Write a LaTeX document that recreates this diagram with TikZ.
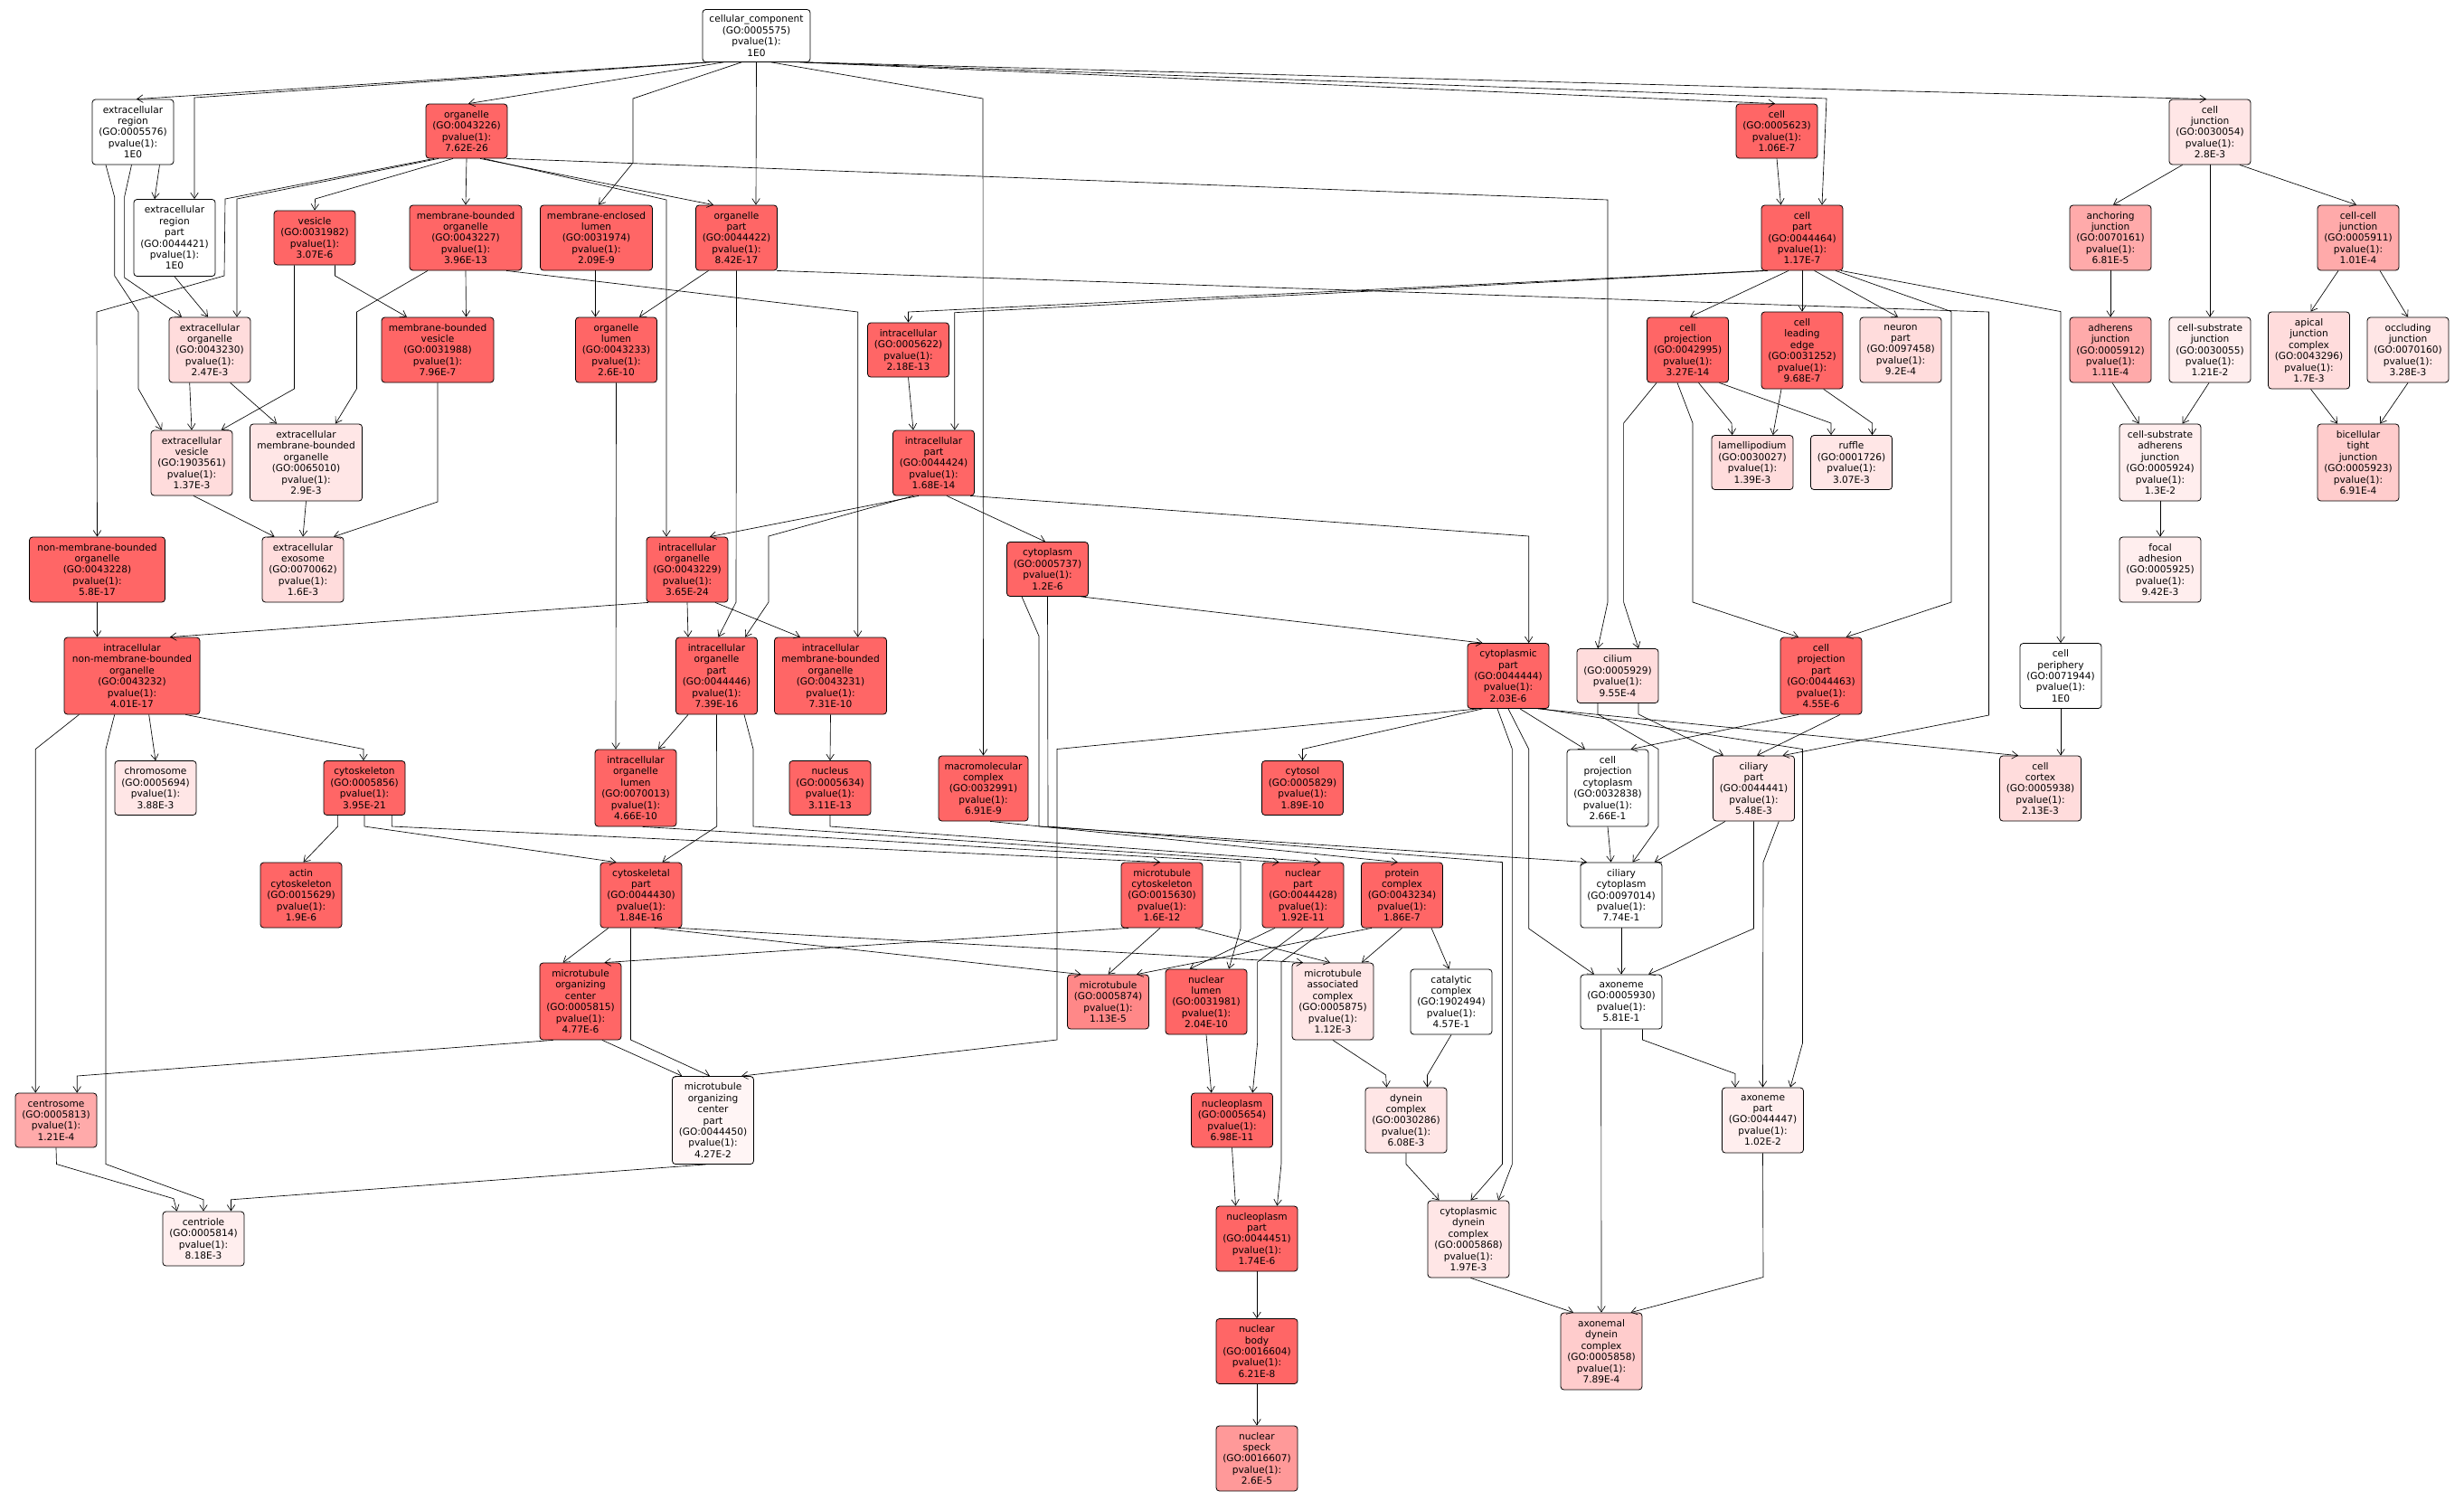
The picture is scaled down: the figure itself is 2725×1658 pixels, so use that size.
\documentclass[tikz,border=0pt]{standalone}
\usepackage{fontspec}
\setmainfont{DejaVu Sans}
\usepackage{xcolor}
\usepackage{tikz}
\usetikzlibrary{arrows.meta}

\definecolor{pvA}{RGB}{255,102,102}
\definecolor{pvB}{RGB}{255,136,136}
\definecolor{pvC}{RGB}{255,153,153}
\definecolor{pvD}{RGB}{255,170,170}
\definecolor{pvE}{RGB}{255,204,204}
\definecolor{pvF}{RGB}{255,220,220}
\definecolor{pvG}{RGB}{255,230,230}
\definecolor{pvH}{RGB}{255,238,238}
\definecolor{pvI}{RGB}{255,245,245}

\begin{document}
\begin{tikzpicture}[
    x=1pt, y=-1pt,
    term/.style={rectangle, draw, line width=0.8pt, rounded corners=3.5pt, align=center, inner sep=1pt,
                 minimum width=90pt, minimum height=72pt, fill=white, font=\fontsize{10.6}{12.4}\selectfont},
    l4/.style={minimum height=60pt},
    l6/.style={minimum height=85pt},
    l7/.style={minimum height=97pt},
    wide/.style={minimum width=124pt},
    wider/.style={minimum width=150pt},
    sA/.style={fill=pvA}, sB/.style={fill=pvB}, sC/.style={fill=pvC},
    sD/.style={fill=pvD}, sE/.style={fill=pvE}, sF/.style={fill=pvF},
    sG/.style={fill=pvG}, sH/.style={fill=pvH}, sI/.style={fill=pvI},
    arrow/.style={-{Straight Barb[length=6.5pt,width=8.5pt]}, line width=0.65pt}
]
\path[use as bounding box, fill=white] (0,0) rectangle (2725,1658);

% Root and first level
\node[term, l4, minimum width=119pt, minimum height=58pt] (cc) at (836.5,39.5) {cellular\_component\\(GO:0005575)\\pvalue(1):\\1E0};
\node[term] (er) at (147,146) {extracellular\\region\\(GO:0005576)\\pvalue(1):\\1E0};
\node[term, l4, sA] (org) at (516,145) {organelle\\(GO:0043226)\\pvalue(1):\\7.62E-26};
\node[term, l4, sA] (cell) at (1965,145) {cell\\(GO:0005623)\\pvalue(1):\\1.06E-7};
\node[term, sG] (cj) at (2444,146) {cell\\junction\\(GO:0030054)\\pvalue(1):\\2.8E-3};

% Second level
\node[term, l6] (erp) at (193,263) {extracellular\\region\\part\\(GO:0044421)\\pvalue(1):\\1E0};
\node[term, l4, sA] (ves) at (348,263) {vesicle\\(GO:0031982)\\pvalue(1):\\3.07E-6};
\node[term, wide, sA] (mbo) at (515,263) {membrane-bounded\\organelle\\(GO:0043227)\\pvalue(1):\\3.96E-13};
\node[term, wide, sA] (mel) at (659.5,263) {membrane-enclosed\\lumen\\(GO:0031974)\\pvalue(1):\\2.09E-9};
\node[term, sA] (orgp) at (814.5,263) {organelle\\part\\(GO:0044422)\\pvalue(1):\\8.42E-17};
\node[term, sA] (cellp) at (1993,263) {cell\\part\\(GO:0044464)\\pvalue(1):\\1.17E-7};
\node[term, sD] (aj) at (2334,263) {anchoring\\junction\\(GO:0070161)\\pvalue(1):\\6.81E-5};
\node[term, sD] (ccj) at (2608,263) {cell-cell\\junction\\(GO:0005911)\\pvalue(1):\\1.01E-4};

% Third level
\node[term, sF] (eo) at (232,387) {extracellular\\organelle\\(GO:0043230)\\pvalue(1):\\2.47E-3};
\node[term, wide, sA] (mbv) at (484,387) {membrane-bounded\\vesicle\\(GO:0031988)\\pvalue(1):\\7.96E-7};
\node[term, sA] (ol) at (681.5,387) {organelle\\lumen\\(GO:0043233)\\pvalue(1):\\2.6E-10};
\node[term, l4, sA] (ic) at (1004.5,387) {intracellular\\(GO:0005622)\\pvalue(1):\\2.18E-13};
\node[term, sA] (cproj) at (1866.5,387) {cell\\projection\\(GO:0042995)\\pvalue(1):\\3.27E-14};
\node[term, l6, sA] (cle) at (1993,387.5) {cell\\leading\\edge\\(GO:0031252)\\pvalue(1):\\9.68E-7};
\node[term, sF] (np) at (2102,387) {neuron\\part\\(GO:0097458)\\pvalue(1):\\9.2E-4};
\node[term, sD] (adj) at (2334,387) {adherens\\junction\\(GO:0005912)\\pvalue(1):\\1.11E-4};
\node[term, sH] (csj) at (2444,387) {cell-substrate\\junction\\(GO:0030055)\\pvalue(1):\\1.21E-2};
\node[term, l6, sF] (ajc) at (2553.5,387.5) {apical\\junction\\complex\\(GO:0043296)\\pvalue(1):\\1.7E-3};
\node[term, sG] (oj) at (2663,387) {occluding\\junction\\(GO:0070160)\\pvalue(1):\\3.28E-3};

% Fourth level
\node[term, sF] (ev) at (212,512) {extracellular\\vesicle\\(GO:1903561)\\pvalue(1):\\1.37E-3};
\node[term, wide, l6, sG] (embo) at (338.5,511.5) {extracellular\\membrane-bounded\\organelle\\(GO:0065010)\\pvalue(1):\\2.9E-3};
\node[term, sA] (icp) at (1032.5,512) {intracellular\\part\\(GO:0044424)\\pvalue(1):\\1.68E-14};
\node[term, l4, sF] (lam) at (1938,511.5) {lamellipodium\\(GO:0030027)\\pvalue(1):\\1.39E-3};
\node[term, l4, sG] (ruf) at (2047.5,511.5) {ruffle\\(GO:0001726)\\pvalue(1):\\3.07E-3};
\node[term, l6, sH] (csaj) at (2389,511.5) {cell-substrate\\adherens\\junction\\(GO:0005924)\\pvalue(1):\\1.3E-2};
\node[term, l6, sE] (btj) at (2608,511.5) {bicellular\\tight\\junction\\(GO:0005923)\\pvalue(1):\\6.91E-4};

% Fifth level
\node[term, wider, sA] (nmbo) at (107.5,630) {non-membrane-bounded\\organelle\\(GO:0043228)\\pvalue(1):\\5.8E-17};
\node[term, sF] (exo) at (335,630) {extracellular\\exosome\\(GO:0070062)\\pvalue(1):\\1.6E-3};
\node[term, sA] (io) at (760,630) {intracellular\\organelle\\(GO:0043229)\\pvalue(1):\\3.65E-24};
\node[term, l4, sA] (cyto) at (1158.5,629.5) {cytoplasm\\(GO:0005737)\\pvalue(1):\\1.2E-6};
\node[term, sH] (fa) at (2389,630) {focal\\adhesion\\(GO:0005925)\\pvalue(1):\\9.42E-3};

% Sixth level
\node[term, wider, l6, sA] (inmbo) at (146,747.5) {intracellular\\non-membrane-bounded\\organelle\\(GO:0043232)\\pvalue(1):\\4.01E-17};
\node[term, l6, sA] (iop) at (792.5,747.5) {intracellular\\organelle\\part\\(GO:0044446)\\pvalue(1):\\7.39E-16};
\node[term, wide, l6, sA] (imbo) at (918.5,747.5) {intracellular\\membrane-bounded\\organelle\\(GO:0043231)\\pvalue(1):\\7.31E-10};
\node[term, sA] (cytp) at (1668,747.5) {cytoplasmic\\part\\(GO:0044444)\\pvalue(1):\\2.03E-6};
\node[term, l4, sF] (cil) at (1789,747.5) {cilium\\(GO:0005929)\\pvalue(1):\\9.55E-4};
\node[term, l6, sA] (cpp) at (2014,747.5) {cell\\projection\\part\\(GO:0044463)\\pvalue(1):\\4.55E-6};
\node[term] (cper) at (2279,747.5) {cell\\periphery\\(GO:0071944)\\pvalue(1):\\1E0};

% Seventh level
\node[term, l4, sG] (chr) at (172,871.5) {chromosome\\(GO:0005694)\\pvalue(1):\\3.88E-3};
\node[term, l4, sA] (csk) at (403,871.5) {cytoskeleton\\(GO:0005856)\\pvalue(1):\\3.95E-21};
\node[term, l6, sA] (iol) at (703,871.5) {intracellular\\organelle\\lumen\\(GO:0070013)\\pvalue(1):\\4.66E-10};
\node[term, l4, sA] (nuc) at (918,871.5) {nucleus\\(GO:0005634)\\pvalue(1):\\3.11E-13};
\node[term, sA, minimum width=99pt] (mmc) at (1087.5,872) {macromolecular\\complex\\(GO:0032991)\\pvalue(1):\\6.91E-9};
\node[term, l4, sA] (cytosol) at (1440.5,871.5) {cytosol\\(GO:0005829)\\pvalue(1):\\1.89E-10};
\node[term, l6] (cpc) at (1778,871.5) {cell\\projection\\cytoplasm\\(GO:0032838)\\pvalue(1):\\2.66E-1};
\node[term, sG] (cilp) at (1939.5,872) {ciliary\\part\\(GO:0044441)\\pvalue(1):\\5.48E-3};
\node[term, sF] (cort) at (2256.5,872) {cell\\cortex\\(GO:0005938)\\pvalue(1):\\2.13E-3};

% Eighth level
\node[term, sA] (acsk) at (333,990) {actin\\cytoskeleton\\(GO:0015629)\\pvalue(1):\\1.9E-6};
\node[term, sA] (cskp) at (709,990) {cytoskeletal\\part\\(GO:0044430)\\pvalue(1):\\1.84E-16};
\node[term, sA] (mtcsk) at (1285,990) {microtubule\\cytoskeleton\\(GO:0015630)\\pvalue(1):\\1.6E-12};
\node[term, sA] (nucp) at (1441,990) {nuclear\\part\\(GO:0044428)\\pvalue(1):\\1.92E-11};
\node[term, sA] (pc) at (1550.5,990) {protein\\complex\\(GO:0043234)\\pvalue(1):\\1.86E-7};
\node[term] (cilc) at (1793,990) {ciliary\\cytoplasm\\(GO:0097014)\\pvalue(1):\\7.74E-1};

% Ninth level
\node[term, l6, sA] (mtoc) at (642,1107.5) {microtubule\\organizing\\center\\(GO:0005815)\\pvalue(1):\\4.77E-6};
\node[term, l4, sB] (mt) at (1225.5,1108) {microtubule\\(GO:0005874)\\pvalue(1):\\1.13E-5};
\node[term, sA] (nl) at (1334,1108) {nuclear\\lumen\\(GO:0031981)\\pvalue(1):\\2.04E-10};
\node[term, l6, sG] (mac) at (1474,1107.5) {microtubule\\associated\\complex\\(GO:0005875)\\pvalue(1):\\1.12E-3};
\node[term] (cat) at (1605,1108) {catalytic\\complex\\(GO:1902494)\\pvalue(1):\\4.57E-1};
\node[term, l4] (axo) at (1793,1108) {axoneme\\(GO:0005930)\\pvalue(1):\\5.81E-1};

% Lower levels
\node[term, l4, sD] (centro) at (62,1239) {centrosome\\(GO:0005813)\\pvalue(1):\\1.21E-4};
\node[term, l7, sI] (mtocp) at (788.5,1239) {microtubule\\organizing\\center\\part\\(GO:0044450)\\pvalue(1):\\4.27E-2};
\node[term, l4, sA] (nplasm) at (1362.5,1239) {nucleoplasm\\(GO:0005654)\\pvalue(1):\\6.98E-11};
\node[term, sG] (dyn) at (1555,1239) {dynein\\complex\\(GO:0030286)\\pvalue(1):\\6.08E-3};
\node[term, sH] (axop) at (1949.5,1239) {axoneme\\part\\(GO:0044447)\\pvalue(1):\\1.02E-2};
\node[term, l4, sH] (centri) at (225,1370) {centriole\\(GO:0005814)\\pvalue(1):\\8.18E-3};
\node[term, sA] (nplp) at (1390,1370) {nucleoplasm\\part\\(GO:0044451)\\pvalue(1):\\1.74E-6};
\node[term, l6, sG] (cdc) at (1624,1370.5) {cytoplasmic\\dynein\\complex\\(GO:0005868)\\pvalue(1):\\1.97E-3};
\node[term, sA] (nb) at (1390,1494.5) {nuclear\\body\\(GO:0016604)\\pvalue(1):\\6.21E-8};
\node[term, l6, sE] (adc) at (1771,1494.5) {axonemal\\dynein\\complex\\(GO:0005858)\\pvalue(1):\\7.89E-4};
\node[term, sC] (ns) at (1390,1613) {nuclear\\speck\\(GO:0016607)\\pvalue(1):\\2.6E-5};

% Edges from cellular_component
\draw[arrow] ([xshift=-56.5pt]cc.south) -- ([xshift=4pt]er.north);
\draw[arrow] ([xshift=-51.5pt]cc.south) -- (215,108) -- ([xshift=22pt]erp.north);
\draw[arrow] ([xshift=-36.5pt]cc.south) -- ([xshift=2pt]org.north);
\draw[arrow] ([xshift=-16.5pt]cc.south) -- (700,109) -- (700,180) -- ([xshift=2.5pt]mel.north);
\draw[arrow] (cc.south) -- ([xshift=21.5pt]orgp.north);
\draw[arrow] ([xshift=16.5pt]cc.south) -- (1087,109) -- (mmc.north);
\draw[arrow] ([xshift=48pt]cc.south) -- ([xshift=-2pt]cell.north);
\draw[arrow] ([xshift=52pt]cc.south) -- (2020,109) -- ([xshift=22pt]cellp.north);
\draw[arrow] ([xshift=56pt]cc.south) -- ([xshift=-4pt]cj.north);

% Extracellular region
\draw[arrow] ([xshift=29.5pt]er.south) -- ([xshift=-22pt]erp.north);
\draw[arrow] ([xshift=-1.5pt]er.south) -- (137.6,218) -- (137.6,307) -- ([xshift=-31pt]eo.north);
\draw[arrow] ([xshift=-30pt]er.south) -- (126.7,218) -- (126.7,305) -- (153,345) -- (153,430) -- ([xshift=-33pt]ev.north);
\draw[arrow] (erp.south) -- ([xshift=-2pt]eo.north);

% Organelle
\draw[arrow] ([xshift=-31pt]org.south) -- (262,220) -- ([xshift=30pt]eo.north);
\draw[arrow] ([xshift=-36pt]org.south) -- (249,220) -- (248,305) -- (107,345) -- (nmbo.north);
\draw[arrow] ([xshift=-15pt]org.south) -- (348.6,220) -- (ves.north);
\draw[arrow] (org.south) -- (mbo.north);
\draw[arrow] ([xshift=15pt]org.south) -- ([xshift=-25.5pt]orgp.north);
\draw[arrow] ([xshift=19pt]org.south) -- (737,221) -- ([xshift=-23pt]io.north);
\draw[arrow] ([xshift=44pt]org.south) -- (1778,221) -- (1778,666) -- ([xshift=-22pt]cil.north);

% Vesicle, membrane-bounded organelle, lumens
\draw[arrow] ([xshift=22.5pt]ves.south) -- (370.5,305) -- ([xshift=-34pt]mbv.north);
\draw[arrow] ([xshift=-22.5pt]ves.south) -- (325.5,430) -- ([xshift=32.7pt]ev.north);
\draw[arrow] ([xshift=-42pt]mbo.south) -- (394.5,345) -- (394.5,430) -- ([xshift=32.5pt]embo.north);
\draw[arrow] (mbo.south) -- ([xshift=31.5pt]mbv.north);
\draw[arrow] ([xshift=45pt]mbo.south) -- (948.7,345) -- ([xshift=30.2pt]imbo.north);
\draw[arrow] ([xshift=-1pt]mel.south) -- ([xshift=-23pt]ol.north);
\draw[arrow] ([xshift=-31pt]orgp.south) -- ([xshift=25.5pt]ol.north);
\draw[arrow] (orgp.south) -- (814,666) -- ([xshift=2pt]iop.north);
\draw[arrow] ([xshift=44.5pt]orgp.south) -- (2199.5,345) -- (2199.5,791) -- ([xshift=32pt]cilp.north);
\draw[arrow] ([xshift=-22.3pt]eo.south) -- (ev.north);
\draw[arrow] ([xshift=22.7pt]eo.south) -- ([xshift=-32.5pt]embo.north);
\draw[arrow] (mbv.south) -- (484,555) -- ([xshift=34pt]exo.north);
\draw[arrow] ([xshift=2pt]ev.south) -- ([xshift=-31.4pt]exo.north);
\draw[arrow] (embo.south) -- (exo.north);
\draw[arrow] (ol.south) -- ([xshift=-22pt]iol.north);

% Cell part and intracellular
\draw[arrow] (ic.south) -- ([xshift=-22.5pt]icp.north);
\draw[arrow] ([xshift=-43pt]cellp.south) -- (1004.5,345) -- (ic.north);
\draw[arrow] ([xshift=-38pt]cellp.south) -- (1055.8,345.7) -- ([xshift=23.3pt]icp.north);
\draw[arrow] ([xshift=-15pt]cellp.south) -- ([xshift=2.5pt]cproj.north);
\draw[arrow] (cellp.south) -- (cle.north);
\draw[arrow] ([xshift=13.6pt]cellp.south) -- ([xshift=-3pt]np.north);
\draw[arrow] ([xshift=37pt]cellp.south) -- (2158,344.6) -- (2158,666) -- ([xshift=27.6pt]cpp.north);
\draw[arrow] ([xshift=43pt]cellp.south) -- (2279,344.6) -- (cper.north);
\draw[arrow] (cell.south) -- ([xshift=-23.5pt]cellp.north);

% Cell junctions
\draw[arrow] ([xshift=-30.4pt]cj.south) -- ([xshift=3pt]aj.north);
\draw[arrow] (cj.south) -- (csj.north);
\draw[arrow] ([xshift=33pt]cj.south) -- ([xshift=-2pt]ccj.north);
\draw[arrow] (aj.south) -- (adj.north);
\draw[arrow] ([xshift=-22pt]ccj.south) -- ([xshift=2pt]ajc.north);
\draw[arrow] ([xshift=24pt]ccj.south) -- (oj.north);
\draw[arrow] ([xshift=2pt]adj.south) -- ([xshift=-23.5pt]csaj.north);
\draw[arrow] ([xshift=-1pt]csj.south) -- ([xshift=24.6pt]csaj.north);
\draw[arrow] ([xshift=2pt]ajc.south) -- ([xshift=-23pt]btj.north);
\draw[arrow] (oj.south) -- ([xshift=24pt]btj.north);
\draw[arrow] (csaj.south) -- (fa.north);

% Cell projection and leading edge
\draw[arrow] ([xshift=-34.5pt]cproj.south) -- (1795.6,468) -- (1795.6,666) -- ([xshift=23pt]cil.north);
\draw[arrow] ([xshift=-11.5pt]cproj.south) -- (1872,468) -- (1872,666) -- ([xshift=-25pt]cpp.north);
\draw[arrow] ([xshift=12pt]cproj.south) -- (1915,468) -- ([xshift=-22.3pt]lam.north);
\draw[arrow] ([xshift=35pt]cproj.south) -- (2025,468) -- ([xshift=-22.5pt]ruf.north);
\draw[arrow] ([xshift=-23pt]cle.south) -- ([xshift=22.7pt]lam.north);
\draw[arrow] ([xshift=23.7pt]cle.south) -- (2070.6,468) -- ([xshift=23pt]ruf.north);

% Intracellular part
\draw[arrow] ([xshift=-16.5pt]icp.south) -- ([xshift=25pt]io.north);
\draw[arrow] ([xshift=-22.5pt]icp.south) -- (850,593) -- (850,666) -- ([xshift=31.5pt]iop.north);
\draw[arrow] ([xshift=14.5pt]icp.south) -- ([xshift=-2.5pt]cyto.north);
\draw[arrow] ([xshift=40.5pt]icp.south) -- (1690.7,593) -- ([xshift=22.7pt]cytp.north);

% Organelle subtypes
\draw[arrow] (nmbo.south) -- ([xshift=-38.5pt]inmbo.north);
\draw[arrow] ([xshift=-43pt]io.south) -- ([xshift=42pt]inmbo.north);
\draw[arrow] (io.south) -- ([xshift=-31.5pt]iop.north);
\draw[arrow] ([xshift=31pt]io.south) -- ([xshift=-33.5pt]imbo.north);

% Cytoplasm
\draw[arrow] ([xshift=37pt]cyto.south) -- ([xshift=-28.4pt]cytp.north);
\draw[arrow] ([xshift=-28.5pt]cyto.south) -- (1149,703.5) -- (1149,914) -- ([xshift=-38pt]cilc.north);
\draw[arrow] (cyto.south) -- (1159,914) -- (1661.5,953.6) -- (1661.5,1287.5) -- ([xshift=2.5pt]cdc.north);

% Intracellular organelle part
\draw[arrow] ([xshift=-31.5pt]iop.south) -- ([xshift=25pt]iol.north);
\draw[arrow] (iop.south) -- (792.7,914) -- ([xshift=23.4pt]cskp.north);
\draw[arrow] ([xshift=30.5pt]iop.south) -- (833,828.5) -- (833,914) -- ([xshift=-26.4pt]nucp.north);
\draw[arrow] (imbo.south) -- (nuc.north);

% Intracellular non-membrane-bounded organelle
\draw[arrow] ([xshift=-58.6pt]inmbo.south) -- (39.3,828.5) -- ([xshift=-22.7pt]centro.north);
\draw[arrow] ([xshift=-19.3pt]inmbo.south) -- (117,828.5) -- (117,1287.5) -- (225,1326.8) -- (centri.north);
\draw[arrow] ([xshift=18.7pt]inmbo.south) -- (chr.north);
\draw[arrow] ([xshift=59.3pt]inmbo.south) -- (402,828.5) -- ([xshift=-1pt]csk.north);

% Cytoplasmic part
\draw[arrow] ([xshift=-28.4pt]cytp.south) -- (1440.5,828.5) -- (cytosol.north);
\draw[arrow] ([xshift=-33pt]cytp.south) -- (1169,828.5) -- (1169,1150) -- ([xshift=31.5pt]mtocp.north);
\draw[arrow] ([xshift=-12pt]cytp.south) -- (1672.4,828.5) -- (1672.4,1287.5) -- ([xshift=33pt]cdc.north);
\draw[arrow] ([xshift=13pt]cytp.south) -- ([xshift=-25pt]cpc.north);
\draw[arrow] (cytp.south) -- (1690.7,828.5) -- (1690.7,1027) -- ([xshift=-30pt]axo.north);
\draw[arrow] ([xshift=32.8pt]cytp.south) -- ([xshift=-24.5pt]cort.north);
\draw[arrow] ([xshift=37pt]cytp.south) -- (1993.5,828.5) -- (1993.5,1153.6) -- ([xshift=30.5pt]axop.north);

% Cilium and cell projection part
\draw[arrow] ([xshift=-22pt]cil.south) -- (1767,790) -- (1834,828.5) -- (1834,914) -- ([xshift=12.6pt]cilc.north);
\draw[arrow] ([xshift=23pt]cil.south) -- (1812,790) -- ([xshift=-33.5pt]cilp.north);
\draw[arrow] ([xshift=-25pt]cpp.south) -- ([xshift=25.5pt]cpc.north);
\draw[arrow] ([xshift=21pt]cpp.south) -- ([xshift=3.5pt]cilp.north);
\draw[arrow] (cper.south) -- ([xshift=22.5pt]cort.north);

% Cytoskeleton
\draw[arrow] ([xshift=-29.4pt]csk.south) -- (373.6,914) -- ([xshift=2.5pt]acsk.north);
\draw[arrow] (csk.south) -- (403,914) -- ([xshift=-27.5pt]cskp.north);
\draw[arrow] ([xshift=30.4pt]csk.south) -- (433.4,914) -- ([xshift=-2pt]mtcsk.north);

% Nucleus and lumens
\draw[arrow] ([xshift=7.6pt]iol.south) -- (1372,953.6) -- (1372,1027) -- ([xshift=25pt]nl.north);
\draw[arrow] (nuc.south) -- (918,914) -- ([xshift=19.5pt]nucp.north);
\draw[arrow] ([xshift=7.5pt]mmc.south) -- ([xshift=-4.8pt]pc.north);

% Ciliary parts
\draw[arrow] (cpc.south) -- ([xshift=-11.4pt]cilc.north);
\draw[arrow] ([xshift=-31.5pt]cilp.south) -- ([xshift=36.7pt]cilc.north);
\draw[arrow] (cilp.south) -- (1939.5,1027) -- ([xshift=30pt]axo.north);
\draw[arrow] ([xshift=27.8pt]cilp.south) -- (1950,953.6) -- (axop.north);

% Cytoskeletal part
\draw[arrow] ([xshift=-36.2pt]cskp.south) -- ([xshift=-19.4pt]mtoc.north);
\draw[arrow] ([xshift=-11.5pt]cskp.south) -- (697.5,1150) -- ([xshift=-3.5pt]mtocp.north);
\draw[arrow] ([xshift=14.7pt]cskp.south) -- ([xshift=-30pt]mt.north);
\draw[arrow] ([xshift=41pt]cskp.south) -- ([xshift=-33pt]mac.north);
\draw[arrow] ([xshift=-37pt]mtcsk.south) -- ([xshift=26.5pt]mtoc.north);
\draw[arrow] ([xshift=-2pt]mtcsk.south) -- (mt.north);
\draw[arrow] ([xshift=37pt]mtcsk.south) -- ([xshift=-3pt]mac.north);

% Nuclear part
\draw[arrow] ([xshift=-31pt]nucp.south) -- ([xshift=-18.3pt]nl.north);
\draw[arrow] (nucp.south) -- (1390.6,1064) -- (1390.6,1153.6) -- ([xshift=22.8pt]nplasm.north);
\draw[arrow] ([xshift=28pt]nucp.south) -- (1417,1064) -- (1417,1287) -- ([xshift=22.4pt]nplp.north);

% Protein complex
\draw[arrow] ([xshift=-33.5pt]pc.south) -- ([xshift=31.5pt]mt.north);
\draw[arrow] (pc.south) -- ([xshift=32pt]mac.north);
\draw[arrow] ([xshift=32.5pt]pc.south) -- ([xshift=-2.5pt]cat.north);
\draw[arrow] (cilc.south) -- (axo.north);

% Lower part
\draw[arrow] ([xshift=-30.3pt]mtoc.south) -- (85.2,1190) -- ([xshift=23.2pt]centro.north);
\draw[arrow] ([xshift=24pt]mtoc.south) -- ([xshift=-34.2pt]mtocp.north);
\draw[arrow] (nl.south) -- ([xshift=-22.8pt]nplasm.north);
\draw[arrow] (mac.south) -- (1532.6,1189) -- ([xshift=-21.5pt]dyn.north);
\draw[arrow] (cat.south) -- (1578.5,1189) -- ([xshift=23.5pt]dyn.north);
\draw[arrow] ([xshift=-22.3pt]axo.south) -- (adc.north);
\draw[arrow] ([xshift=23.5pt]axo.south) -- (1816.5,1150) -- (1919,1187.5) -- ([xshift=-30.5pt]axop.north);
\draw[arrow] (centro.south) -- (62.5,1287.5) -- (192,1325.7) -- ([xshift=-29.3pt]centri.north);
\draw[arrow] ([xshift=-8pt]mtocp.south) -- (255.5,1326.8) -- ([xshift=30.5pt]centri.north);
\draw[arrow] (nplasm.south) -- ([xshift=-23.5pt]nplp.north);
\draw[arrow] (dyn.south) -- (1555,1287.5) -- ([xshift=-32.4pt]cdc.north);
\draw[arrow] (axop.south) -- (1950,1412.5) -- ([xshift=32.5pt]adc.north);
\draw[arrow] (nplp.south) -- (nb.north);
\draw[arrow] (nb.south) -- (ns.north);
\draw[arrow] ([xshift=2.5pt]cdc.south) -- ([xshift=-31pt]adc.north);

\end{tikzpicture}
\end{document}
